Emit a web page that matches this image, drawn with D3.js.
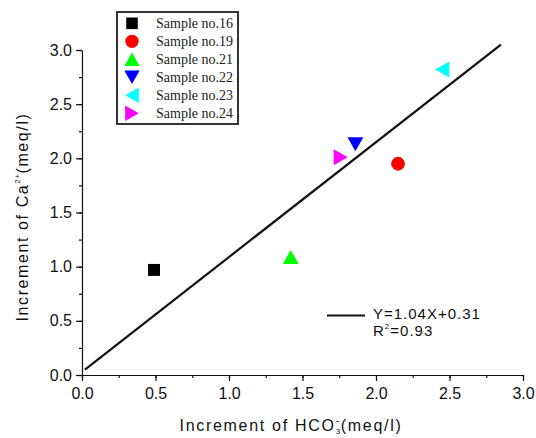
<!DOCTYPE html>
<html>
<head>
<meta charset="utf-8">
<script src="https://cdn.jsdelivr.net/npm/d3@7"></script>
<style>
  body { margin: 0; background: #fff; }
  .axis text { font-family: "Liberation Sans", Arial, sans-serif; font-size: 16px; fill: #111; }
  .axis path, .axis line { stroke: #111; stroke-width: 1.2; }
</style>
</head>
<body>
<div id="chart"></div>
<script>
/**
 * DATA
 * */
const samples = ["Sample no.16", "Sample no.19", "Sample no.21", "Sample no.22", "Sample no.23", "Sample no.24"];
const hco3 = [0.49, 2.15, 1.42, 1.86, 2.45, 1.76];
const ca = [0.97, 1.95, 1.09, 2.13, 2.82, 2.01];
const colors = ["#000000", "#ff0000", "#00ff00", "#0000ff", "#00ffff", "#ff00ff"];
const shapes = ["square", "circle", "up", "down", "left", "right"];
const fitX = [0.02, 2.85];
const fitY = [0.05, 3.05];
const tickValues = [0, 0.5, 1, 1.5, 2, 2.5, 3];
const fitText = ["Y=1.04X+0.31", "R²=0.93"];

/**
 * CONSTANTS
 * */
const width = 536,
  height = 438,
  margin = { top: 50, bottom: 63, left: 82, right: 13 };

const svg = d3.select("#chart")
  .append("svg")
  .attr("width", width)
  .attr("height", height);

const xScale = d3.scaleLinear()
  .domain([0, 3])
  .range([margin.left, width - margin.right]);

const yScale = d3.scaleLinear()
  .domain([0, 3])
  .range([height - margin.bottom, margin.top]);

// minor ticks every 0.25
const minor = d3.range(0, 3.01, 0.25);

svg.append("g")
  .attr("class", "axis")
  .attr("transform", `translate(0,${yScale(0)})`)
  .call(d3.axisBottom(xScale).tickValues(minor).tickFormat("").tickSize(3).tickSizeOuter(0))
  .call(g => g.select(".domain").remove());

svg.append("g")
  .attr("class", "axis")
  .attr("transform", `translate(${xScale(0)},0)`)
  .call(d3.axisLeft(yScale).tickValues(minor).tickFormat("").tickSize(3).tickSizeOuter(0))
  .call(g => g.select(".domain").remove());

svg.append("g")
  .attr("class", "axis x-axis")
  .attr("transform", `translate(0,${yScale(0)})`)
  .call(d3.axisBottom(xScale).tickValues(tickValues).tickFormat(d3.format(".1f"))
    .tickSize(6).tickPadding(7).tickSizeOuter(0));

svg.append("g")
  .attr("class", "axis y-axis")
  .attr("transform", `translate(${xScale(0)},0)`)
  .call(d3.axisLeft(yScale).tickValues(tickValues).tickFormat(d3.format(".1f"))
    .tickSize(6).tickPadding(4).tickSizeOuter(0));

// axis titles
const xt = svg.append("text")
  .attr("x", 291)
  .attr("y", 431)
  .attr("text-anchor", "middle")
  .style("font-family", "Liberation Sans, Arial, sans-serif")
  .style("font-size", "16px")
  .style("letter-spacing", "1.7px")
  .attr("fill", "#111");
xt.append("tspan").text("Increment of HCO");
xt.append("tspan").attr("font-size", "8px").attr("dy", 3).text("3");
xt.append("tspan").attr("font-size", "10px").attr("dy", -10).attr("dx", -6).text("-");
xt.append("tspan").attr("dy", 7).text("(meq/l)");

const yt = svg.append("text")
  .attr("transform", `translate(28,217) rotate(-90)`)
  .attr("text-anchor", "middle")
  .style("font-family", "Liberation Sans, Arial, sans-serif")
  .style("font-size", "16px")
  .style("letter-spacing", "1.6px")
  .attr("fill", "#111");
yt.append("tspan").text("Increment of Ca");
yt.append("tspan").attr("font-size", "8px").attr("dy", -8).style("letter-spacing", "0.5px").text("2+");
yt.append("tspan").attr("dy", 8).text("(meq/l)");

// regression line
const line = d3.line().x(d => xScale(d[0])).y(d => yScale(d[1]));
svg.append("path")
  .datum(d3.zip(fitX, fitY))
  .attr("d", line)
  .attr("fill", "none")
  .attr("stroke", "#111")
  .attr("stroke-width", 2.2);

// symbols
function symbolPath(shape, s) {
  if (shape === "square") return `M${-s * 0.92},${-s * 0.92}H${s * 0.92}V${s * 0.92}H${-s * 0.92}Z`;
  if (shape === "circle") return d3.symbol(d3.symbolCircle, Math.PI * s * s * 1.12)();
  const w = s * 1.22, h = s * 1.08;
  if (shape === "up") return `M0,${-h}L${w},${h}L${-w},${h}Z`;
  if (shape === "down") return `M0,${h}L${w},${-h}L${-w},${-h}Z`;
  if (shape === "left") return `M${-h},0L${h},${-w}L${h},${w}Z`;
  return `M${h},0L${-h},${-w}L${-h},${w}Z`;
}

svg.selectAll(".dot")
  .data(samples)
  .join("path")
  .attr("class", "dot")
  .attr("transform", (d, i) => `translate(${xScale(hco3[i])},${yScale(ca[i])})`)
  .attr("d", (d, i) => symbolPath(shapes[i], 6.5))
  .attr("fill", (d, i) => colors[i]);

// legend
const legend = svg.append("g").attr("transform", "translate(117,12)");
legend.append("rect")
  .attr("x", 0).attr("y", 0)
  .attr("width", 121).attr("height", 112)
  .attr("fill", "#fff")
  .attr("stroke", "#333")
  .attr("stroke-width", 2);

const rows = legend.selectAll(".row")
  .data(samples)
  .join("g")
  .attr("class", "row")
  .attr("transform", (d, i) => `translate(15,${11.3 + i * 18})`);

rows.append("path")
  .attr("d", (d, i) => symbolPath(shapes[i], 6.3))
  .attr("fill", (d, i) => colors[i]);

rows.append("text")
  .attr("x", 24)
  .attr("dy", "0.35em")
  .style("font-family", "Liberation Serif, Times New Roman, serif")
  .style("font-size", "14px")
  .attr("fill", "#222")
  .text(d => d);

// fit legend
const fitG = svg.append("g").attr("transform", "translate(327,315.5)");
fitG.append("line")
  .attr("x1", 0).attr("x2", 38)
  .attr("stroke", "#111").attr("stroke-width", 2.2);
fitG.append("text")
  .attr("x", 46).attr("y", 3)
  .style("font-family", "Liberation Sans, Arial, sans-serif")
  .style("font-size", "15px")
  .style("letter-spacing", "1px")
  .attr("fill", "#111")
  .text(fitText[0]);
const r2 = fitG.append("text")
  .attr("x", 46).attr("y", 20)
  .style("font-family", "Liberation Sans, Arial, sans-serif")
  .style("font-size", "15px")
  .style("letter-spacing", "1px")
  .attr("fill", "#111");
r2.append("tspan").text("R");
r2.append("tspan").attr("font-size", "8px").attr("dy", -7).text("2");
r2.append("tspan").attr("dy", 7).text(fitText[1].slice(2));
</script>
</body>
</html>
